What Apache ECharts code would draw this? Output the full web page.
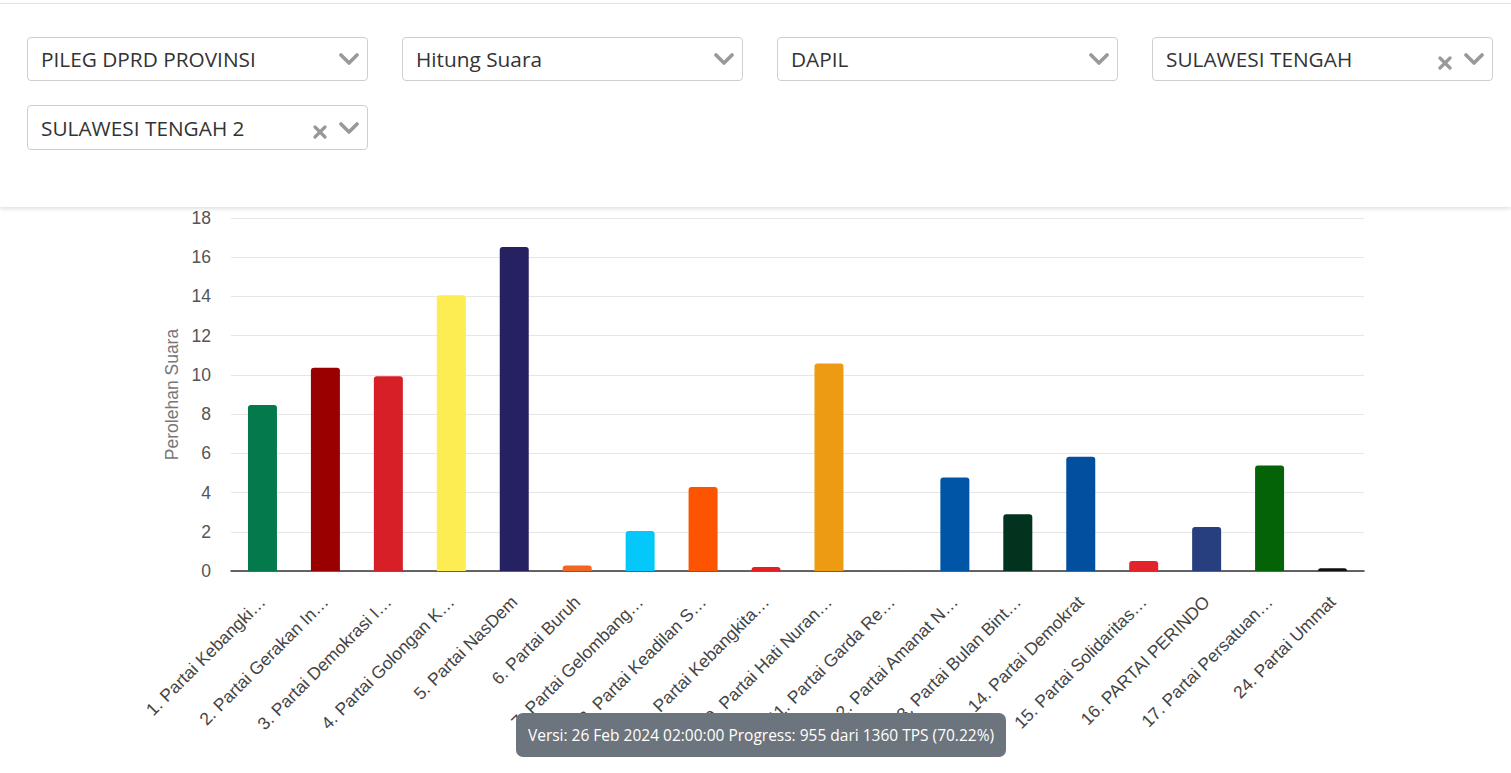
<!DOCTYPE html>
<html>
<head>
<meta charset="utf-8">
<script src="https://cdn.jsdelivr.net/npm/echarts@6/dist/echarts.min.js"></script>
<style>
  html, body { margin: 0; padding: 0; background: #fff; width: 1511px; height: 773px; overflow: hidden; }
  #chart { position: absolute; left: 0; top: 0; width: 1511px; height: 773px; z-index: 0; }
  #panel { position: absolute; left: 0; top: 3px; width: 1511px; height: 203px; background: #fff;
           border-top: 1px solid #e3e3e3; box-shadow: 0 2px 4px rgba(0,0,0,0.12); z-index: 1; }
  .dd { position: absolute; width: 339px; height: 42px; border: 1px solid #cfcfcf; border-radius: 4px; background: #fff;
        font-family: "Open Sans", sans-serif; font-size: 20.8px; color: #333; box-sizing: content-box; }
  .dd .t { position: absolute; left: 13px; top: 50%; transform: translateY(-50%); white-space: nowrap; line-height: 1; }
  .dd svg { position: absolute; }
  #badge { position: absolute; left: 516px; top: 713px; width: 490px; height: 44px; background: #6c757d; border-radius: 7px;
           color: #fff; font-family: "Open Sans", sans-serif; font-size: 15.5px; line-height: 44px; text-align: center;
           white-space: nowrap; z-index: 2; }
</style>
</head>
<body>
<div id="chart"></div>
<div id="panel">
  <div class="dd" style="left:27px; top:33px;"><span class="t">PILEG DPRD PROVINSI</span>
    <svg style="right:8px; top:14px;" width="20" height="14" viewBox="0 0 20 14"><polyline points="2,3 10,11 18,3" fill="none" stroke="#999" stroke-width="3.6" stroke-linecap="round" stroke-linejoin="round"/></svg></div>
  <div class="dd" style="left:402px; top:33px;"><span class="t">Hitung Suara</span>
    <svg style="right:8px; top:14px;" width="20" height="14" viewBox="0 0 20 14"><polyline points="2,3 10,11 18,3" fill="none" stroke="#999" stroke-width="3.6" stroke-linecap="round" stroke-linejoin="round"/></svg></div>
  <div class="dd" style="left:777px; top:33px;"><span class="t">DAPIL</span>
    <svg style="right:8px; top:14px;" width="20" height="14" viewBox="0 0 20 14"><polyline points="2,3 10,11 18,3" fill="none" stroke="#999" stroke-width="3.6" stroke-linecap="round" stroke-linejoin="round"/></svg></div>
  <div class="dd" style="left:1152px; top:33px;"><span class="t">SULAWESI TENGAH</span>
    <svg style="right:40px; top:18px;" width="14" height="14" viewBox="0 0 14 14"><path d="M2,2 L12,12 M12,2 L2,12" stroke="#999" stroke-width="3.2" stroke-linecap="round"/></svg>
    <svg style="right:8px; top:14px;" width="20" height="14" viewBox="0 0 20 14"><polyline points="2,3 10,11 18,3" fill="none" stroke="#999" stroke-width="3.6" stroke-linecap="round" stroke-linejoin="round"/></svg></div>
  <div class="dd" style="left:27px; top:101px; height:43px;"><span class="t">SULAWESI TENGAH 2</span>
    <svg style="right:40px; top:19px;" width="14" height="14" viewBox="0 0 14 14"><path d="M2,2 L12,12 M12,2 L2,12" stroke="#999" stroke-width="3.2" stroke-linecap="round"/></svg>
    <svg style="right:8px; top:15px;" width="20" height="14" viewBox="0 0 20 14"><polyline points="2,3 10,11 18,3" fill="none" stroke="#999" stroke-width="3.6" stroke-linecap="round" stroke-linejoin="round"/></svg></div>
</div>
<div id="badge">Versi: 26 Feb 2024 02:00:00 Progress: 955 dari 1360 TPS (70.22%)</div>
<script>
// ---- data ----
const partyLabels = [
  "1. Partai Kebangki\u2026",
  "2. Partai Gerakan In\u2026",
  "3. Partai Demokrasi I\u2026",
  "4. Partai Golongan K\u2026",
  "5. Partai NasDem",
  "6. Partai Buruh",
  "7. Partai Gelombang\u2026",
  "8. Partai Keadilan S\u2026",
  "9. Partai Kebangkita\u2026",
  "10. Partai Hati Nuran\u2026",
  "11. Partai Garda Re\u2026",
  "12. Partai Amanat N\u2026",
  "13. Partai Bulan Bint\u2026",
  "14. Partai Demokrat",
  "15. Partai Solidaritas\u2026",
  "16. PARTAI PERINDO",
  "17. Partai Persatuan\u2026",
  "24. Partai Ummat"
];
const voteValues = [8.46, 10.36, 9.93, 14.06, 16.52, 0.28, 2.04, 4.28, 0.2, 10.58, 0.03, 4.77, 2.89, 5.83, 0.51, 2.24, 5.38, 0.14];
const partyColors = ["#03794c", "#990000", "#d71f28", "#fdec52", "#262262", "#f26522", "#05c8fa", "#fc5400", "#e31e24",
                     "#ee9b14", "#6d6d6d", "#0155a6", "#01331f", "#024f9f", "#e4222c", "#273f7f", "#046307", "#111111"];
const yTicks = { min: 0, max: 18, interval: 2 };
const yAxisTitle = "Perolehan Suara";

const chart = echarts.init(document.getElementById('chart'), null, { renderer: 'svg' });
chart.setOption({
  animation: false,
  grid: { left: 231, right: 147, top: 218, bottom: 202 },
  xAxis: {
    type: 'category',
    data: partyLabels,
    axisTick: { show: false },
    axisLine: { lineStyle: { color: '#333', width: 1.5 } },
    axisLabel: { rotate: 45, interval: 0, margin: 28, color: '#444', fontSize: 17.5, fontFamily: '"Liberation Sans", Arial, sans-serif' }
  },
  yAxis: {
    type: 'value',
    min: yTicks.min, max: yTicks.max, interval: yTicks.interval,
    name: yAxisTitle, nameLocation: 'middle', nameGap: 49,
    nameTextStyle: { color: '#777', fontSize: 17.5, fontFamily: '"Liberation Sans", Arial, sans-serif' },
    axisLine: { show: false }, axisTick: { show: false },
    axisLabel: { margin: 20, color: '#555', fontSize: 17.5, fontFamily: '"Liberation Sans", Arial, sans-serif' },
    splitLine: { lineStyle: { color: '#e6e6e6', width: 1 } }
  },
  series: [{
    type: 'bar',
    barWidth: 29,
    data: voteValues.map((v, i) => ({ value: v, itemStyle: { color: partyColors[i], borderRadius: [3, 3, 0, 0] } }))
  }]
});
</script>
</body>
</html>
